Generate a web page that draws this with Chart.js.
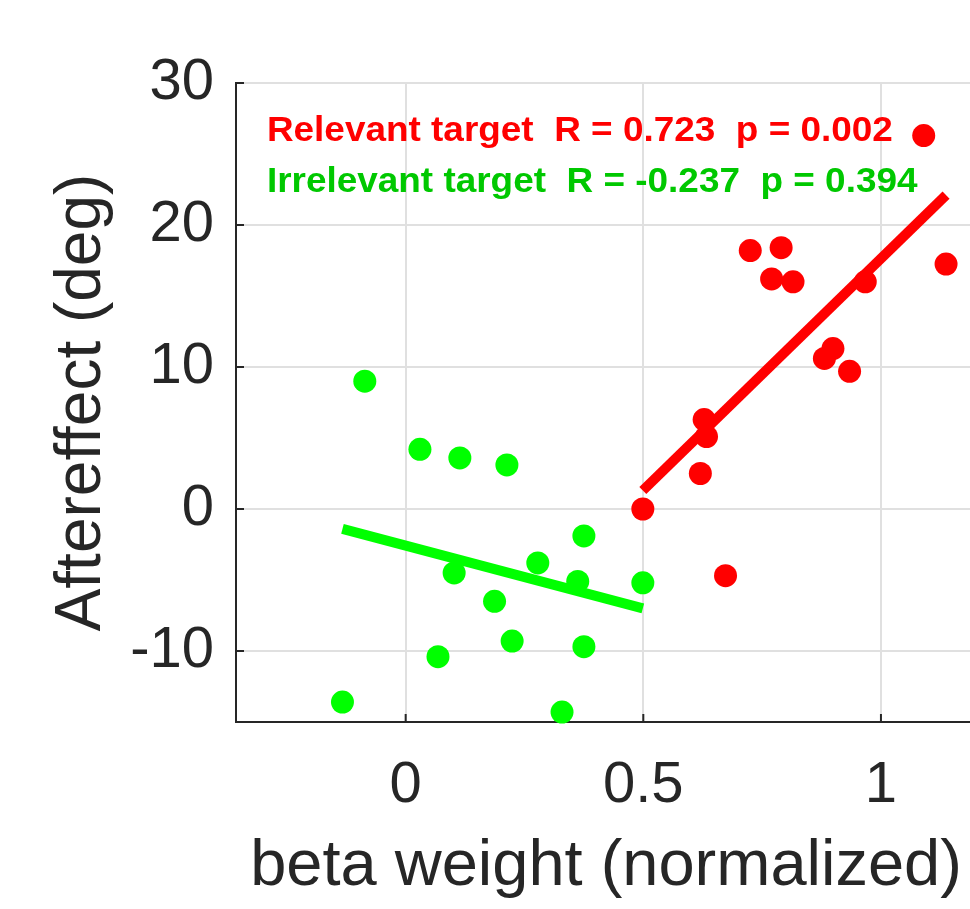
<!DOCTYPE html>
<html>
<head>
<meta charset="utf-8">
<script src="https://cdn.jsdelivr.net/npm/chart.js@4"></script>
<style>
  html, body { margin: 0; padding: 0; background: #ffffff; overflow: hidden; }
  #wrap { width: 1000px; height: 909px; }
</style>
</head>
<body>
<div id="wrap"><canvas id="c" width="1000" height="909"></canvas></div>
<script>
// Relevant-target subjects: beta weight vs aftereffect (deg)
const relevantBeta        = [0.499, 0.620, 0.628, 0.633, 0.673, 0.725, 0.770, 0.790, 0.815, 0.881, 0.899, 0.934, 0.967, 1.090, 1.137];
const relevantAftereffect = [0.0,   2.5,   6.3,   5.1,  -4.7,  18.2,  16.2,  18.4,  16.0,  10.6,  11.3,   9.7,  16.0,  26.3,  17.25];

// Irrelevant-target subjects
const irrelevantBeta        = [-0.133, -0.086, 0.030, 0.068, 0.102, 0.114, 0.187, 0.213, 0.224, 0.278, 0.329, 0.362, 0.375, 0.375, 0.499];
const irrelevantAftereffect = [-13.6,   9.0,   4.2, -10.4,  -4.5,   3.6,  -6.5,   3.1,  -9.3,  -3.8, -14.3,  -5.1,  -1.9,  -9.7,  -5.2];

// Least-squares fit lines (end points over each group's beta range)
const relevantFitBeta   = [0.499, 1.137];
const relevantFitEffect = [1.3, 22.1];
const irrelevantFitBeta   = [-0.133, 0.499];
const irrelevantFitEffect = [-1.4, -7.0];

// Axis ticks
const xTickValues = [0, 0.5, 1];
const xTickLabels = ['0', '0.5', '1'];
const yTickValues = [-10, 0, 10, 20, 30];
const yTickLabels = ['-10', '0', '10', '20', '30'];

// Correlation statistics
const statLabels = [
  'Relevant target  R = 0.723  p = 0.002',
  'Irrelevant target  R = -0.237  p = 0.394'
];

const FONT = '"Liberation Sans", Arial, Helvetica, sans-serif';
const INK = '#262626';
const RED = '#ff0000';
const GREEN = '#00ff00';
const GREEN_TEXT = '#00c800';

const toPoints = (xs, ys) => xs.map((v, i) => ({ x: v, y: ys[i] }));

// MATLAB-style inward tick marks on the left and bottom axes
const innerTicks = {
  id: 'innerTicks',
  beforeDatasetsDraw(chart) {
    const { ctx, chartArea: a, scales: { x, y } } = chart;
    ctx.save();
    ctx.strokeStyle = INK;
    ctx.lineWidth = 2;
    ctx.beginPath();
    x.ticks.forEach(t => {
      const px = x.getPixelForValue(t.value);
      ctx.moveTo(px, a.bottom);
      ctx.lineTo(px, a.bottom - 8);
    });
    y.ticks.forEach(t => {
      const py = y.getPixelForValue(t.value);
      ctx.moveTo(a.left, py);
      ctx.lineTo(a.left + 8, py);
    });
    ctx.stroke();
    ctx.restore();
  }
};

// Correlation text placed in data coordinates, slightly widened
const statsText = {
  id: 'statsText',
  afterDatasetsDraw(chart, args, opts) {
    const { ctx, scales: { x, y } } = chart;
    statLabels.forEach((t, i) => {
      ctx.save();
      ctx.font = 'bold 35px ' + FONT;
      ctx.textAlign = 'left';
      ctx.textBaseline = 'alphabetic';
      ctx.fillStyle = opts.colors[i];
      const px = x.getPixelForValue(opts.x);
      const py = y.getPixelForValue(opts.y[i]);
      ctx.translate(px, py);
      ctx.scale(opts.stretch, 1);
      ctx.fillText(t, 0, 0);
      ctx.restore();
    });
  }
};

new Chart(document.getElementById('c'), {
  type: 'scatter',
  data: {
    datasets: [
      {
        label: 'Relevant target',
        data: toPoints(relevantBeta, relevantAftereffect),
        backgroundColor: RED,
        borderWidth: 0,
        pointRadius: 11.5,
        clip: false
      },
      {
        label: 'Irrelevant target',
        data: toPoints(irrelevantBeta, irrelevantAftereffect),
        backgroundColor: GREEN,
        borderWidth: 0,
        pointRadius: 11.5,
        clip: false
      },
      {
        type: 'line',
        label: 'Relevant fit',
        data: toPoints(relevantFitBeta, relevantFitEffect),
        borderColor: RED,
        borderWidth: 10,
        pointRadius: 0,
        fill: false
      },
      {
        type: 'line',
        label: 'Irrelevant fit',
        data: toPoints(irrelevantFitBeta, irrelevantFitEffect),
        borderColor: GREEN,
        borderWidth: 10,
        pointRadius: 0,
        fill: false
      }
    ]
  },
  options: {
    responsive: false,
    animation: false,
    devicePixelRatio: 1,
    events: [],
    layout: { padding: { left: 0, right: 24, top: 83, bottom: 0 } },
    plugins: {
      legend: { display: false },
      tooltip: { enabled: false },
      statsText: { x: -0.292, y: [25.95, 22.3], colors: [RED, GREEN_TEXT], stretch: 1.055 }
    },
    scales: {
      x: {
        type: 'linear',
        min: -0.357,
        max: 1.2,
        afterBuildTicks: s => { s.ticks = xTickValues.map(v => ({ value: v })); },
        afterFit: s => { s.height = 187; },
        ticks: {
          callback: (v, i) => xTickLabels[i],
          font: { family: FONT, size: 58 },
          color: INK,
          padding: 29,
          maxRotation: 0,
          autoSkip: false
        },
        grid: { color: '#e0e0e0', lineWidth: 2, drawTicks: false },
        border: { display: true, color: INK, width: 2 },
        title: {
          display: true,
          text: 'beta weight (normalized)',
          font: { family: FONT, size: 65 },
          color: INK,
          padding: { top: 0, bottom: 3 }
        }
      },
      y: {
        type: 'linear',
        min: -15,
        max: 30,
        afterBuildTicks: s => { s.ticks = yTickValues.map(v => ({ value: v })); },
        afterFit: s => { s.width = 236; },
        ticks: {
          callback: (v, i) => yTickLabels[i],
          font: { family: FONT, size: 58 },
          color: INK,
          padding: 22,
          autoSkip: false
        },
        grid: { color: '#e0e0e0', lineWidth: 2, drawTicks: false },
        border: { display: true, color: INK, width: 2 },
        title: {
          display: true,
          text: 'Aftereffect (deg)',
          font: { family: FONT, size: 64 },
          color: INK,
          padding: { top: 44, bottom: 0 }
        }
      }
    }
  },
  plugins: [innerTicks, statsText]
});
</script>
</body>
</html>
